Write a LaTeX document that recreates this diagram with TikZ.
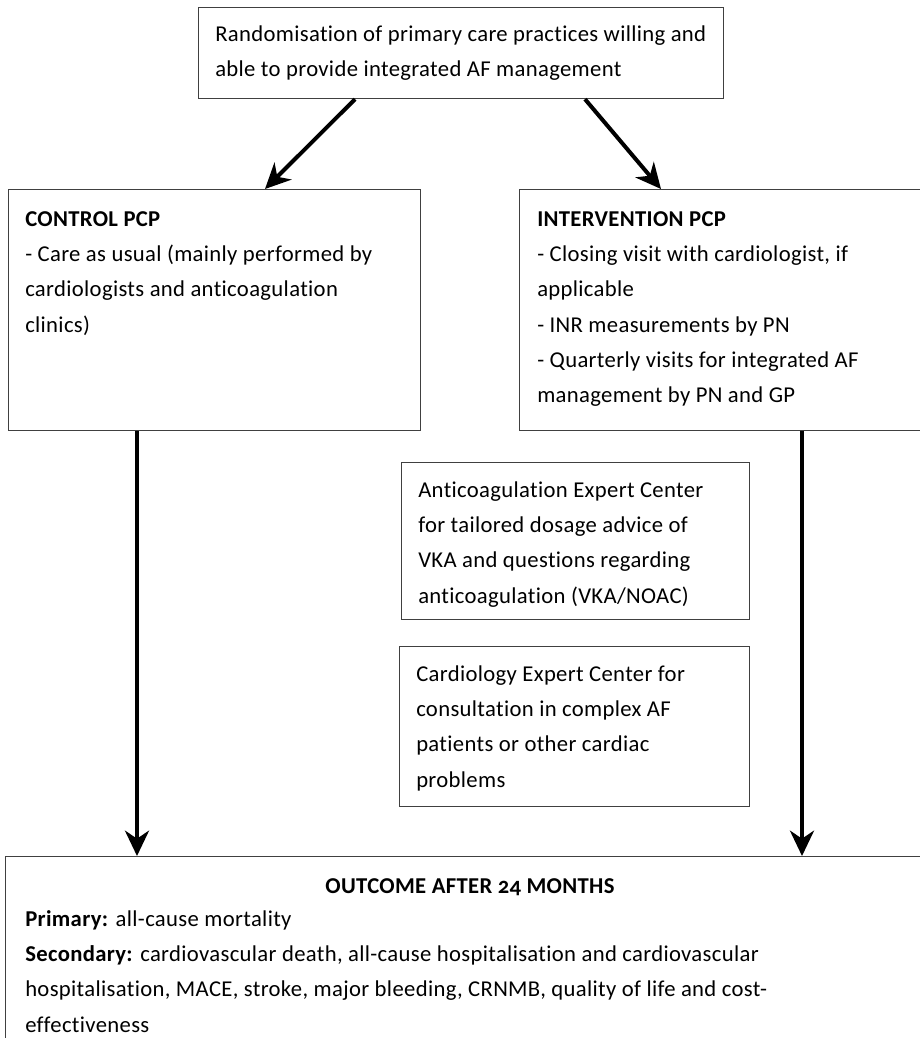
\documentclass[tikz,border=0pt]{standalone}
\usepackage{fontspec}
\setmainfont{Carlito}[Ligatures=NoCommon, LetterSpace=1.5]
\usetikzlibrary{arrows.meta,calc}
\newcommand\firstline{\rule{0pt}{15pt}}
\begin{document}
\begin{tikzpicture}[x=0.75pt,y=-0.75pt,
  box/.style={draw=black!75, line width=0.9pt, inner sep=0pt, anchor=north west},
  txt/.style={anchor=north west, align=left, inner sep=0pt,
    font=\fontsize{17}{26.5}\selectfont},
  ttl/.style={anchor=base, inner sep=0pt, font=\fontsize{17}{26.5}\selectfont\bfseries\addfontfeatures{Numbers=OldStyle}},
  arr/.style={line width=3pt, -{Stealth[length=19pt,width=18pt,inset=6pt]}}]
\useasboundingbox (0,0) rectangle (920,1038);
\clip (0,0) rectangle (920,1038);
% boxes
\node[box, minimum width=393.75pt, minimum height=68.25pt] (top) at (198,7) {};
\node[box, minimum width=309pt, minimum height=180.75pt] (ctrl) at (8,189) {};
\node[box, minimum width=309pt, minimum height=180.75pt] (intv) at (519,189) {};
\node[box, minimum width=261pt, minimum height=117.75pt] (antic) at (401,462) {};
\node[box, minimum width=262.5pt, minimum height=120pt] (card) at (399,646) {};
\node[box, minimum width=697.5pt, minimum height=141.75pt] (out) at (5,856) {};
% texts
\node[txt] (ttop) at (215,21) {\firstline Randomisation of primary care practices willing and\\able to provide integrated AF management};
\node[txt] (tctrl) at (25,206) {\firstline\textbf{CONTROL PCP}\\- Care as usual (mainly performed by\\cardiologists and anticoagulation\\clinics)};
\node[txt] (tintv) at (537,206) {\firstline\textbf{INTERVENTION PCP}\\- Closing visit with cardiologist, if\\applicable\\- INR measurements by PN\\- Quarterly visits for integrated AF\\management by PN and GP};
\node[txt] (tantic) at (418,477) {\firstline Anticoagulation Expert Center\\for tailored dosage advice of\\VKA and questions regarding\\anticoagulation (VKA/NOAC)};
\node[txt] (tcard) at (416,661) {\firstline Cardiology Expert Center for\\consultation in complex AF\\patients or other cardiac\\problems};
\node[ttl] (tout) at (470,893) {OUTCOME AFTER 24 MONTHS};
\node[txt] (tout2) at (25,906) {\firstline\textbf{Primary:} all-cause mortality\\\textbf{Secondary:} cardiovascular death, all-cause hospitalisation and cardiovascular\\hospitalisation, MACE, stroke, major bleeding, CRNMB, quality of life and cost-\\effectiveness};
% connectors
\coordinate (a1) at ($(top.south west)+(157,0)$);
\coordinate (b1) at ($(ctrl.north west)+(257,0)$);
\coordinate (a2) at ($(top.south west)+(387,0)$);
\coordinate (b2) at ($(intv.north west)+(142,0)$);
\draw[arr] (a1) -- (b1);
\draw[arr] (a2) -- (b2);
\coordinate (c1) at ($(ctrl.south west)+(129,0)$);
\coordinate (c2) at ($(intv.south west)+(283,0)$);
\draw[arr] (c1) -- (c1 |- out.north);
\draw[arr] (c2) -- (c2 |- out.north);
\end{tikzpicture}
\end{document}
